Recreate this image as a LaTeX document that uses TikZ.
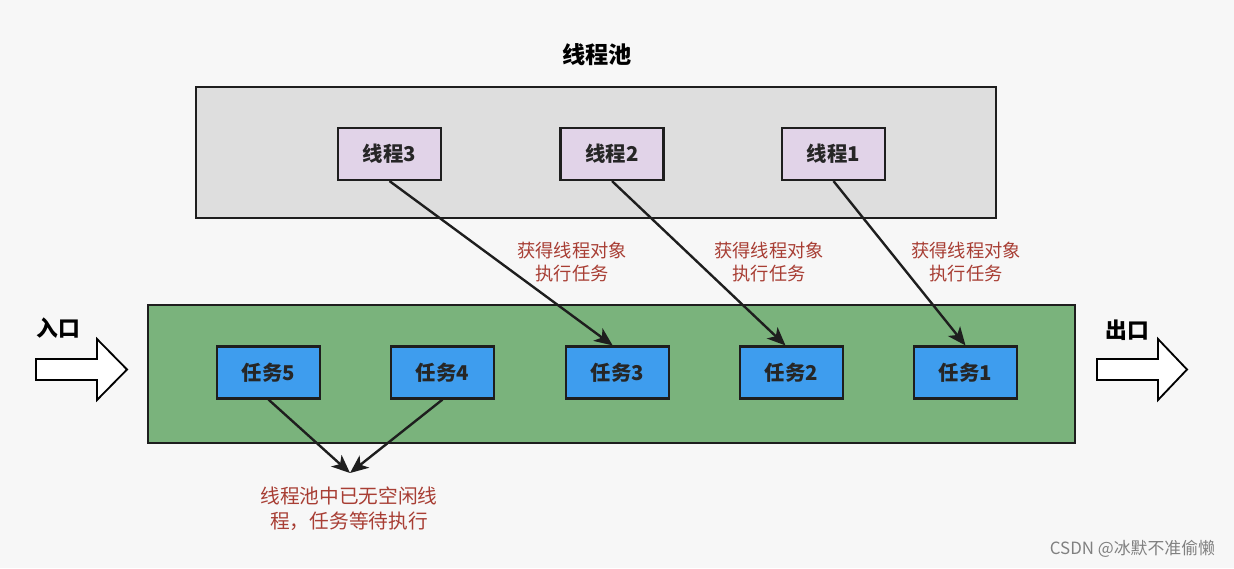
\documentclass[tikz,border=0pt]{standalone}
\usepackage{fontspec}
\setmainfont{Noto Sans CJK SC}
\usetikzlibrary{
	arrows.meta,
	positioning
}
\definecolor{PoolGray}{RGB}{222,222,222}
\definecolor{ThreadPurple}{RGB}{225,211,232}
\definecolor{QueueGreen}{RGB}{122,179,124}
\definecolor{TaskBlue}{RGB}{62,157,238}
\definecolor{NoteRed}{RGB}{168,62,52}
\definecolor{EdgeDark}{RGB}{30,30,30}

\begin{document}
\begin{tikzpicture}[x=0.025cm, y=-0.025cm,
		box/.style={draw=EdgeDark, line width=1.5pt, minimum width=2.575cm, minimum height=1.3cm, inner sep=0pt, text=black!85, font=\fontsize{14.5}{16}\selectfont\bfseries},
		thread/.style={box, fill=ThreadPurple},
		task/.style={box, fill=TaskBlue},
		flow/.style={draw=EdgeDark, line width=1.7pt, -{Stealth[length=13pt,width=11pt,inset=3.5pt]}},
		note/.style={text=NoteRed, align=center, font=\fontsize{13}{17}\selectfont},
		bigarrow/.style={draw=black, fill=white, line width=1.3pt, line join=miter}]
		\useasboundingbox (0,0) rectangle (1234,568);
		\fill[white!97!black] (0,0) rectangle (1234,568);
		
		% pool
		\node[font=\fontsize{16.5}{18}\selectfont\bfseries] (title) at (597,55) {线程池};
		\draw[fill=PoolGray, draw=EdgeDark, line width=1.5pt] (196,87) rectangle (996,218);
		\node[thread] (t3) at (389.5,154) {线程3};
		\node[thread] (t2) at (612,154) {线程2};
		\node[thread] (t1) at (833.5,154) {线程1};
		
		% queue
		\draw[fill=QueueGreen, draw=EdgeDark, line width=1.5pt] (148,305) rectangle (1075,443);
		\node[task] (r5) at (268.5,372.5) {任务5};
		\node[task] (r4) at (442.5,372.5) {任务4};
		\node[task] (r3) at (617.5,372.5) {任务3};
		\node[task] (r2) at (791.5,372.5) {任务2};
		\node[task] (r1) at (965.5,372.5) {任务1};
		
		\draw[flow] (t3.south) -- ([xshift=-0.12cm]r3.north);
		\draw[flow] (t2.south) -- ([xshift=-0.15cm]r2.north);
		\draw[flow] (t1.south) -- (r1.north);
		
		\node[note] (n3) at (572,262) {获得线程对象\\执行任务};
		\node[note] (n2) at (769,262) {获得线程对象\\执行任务};
		\node[note] (n1) at (966,262) {获得线程对象\\执行任务};
		
		% waiting tasks
		\coordinate (wait) at (350,473);
		\draw[flow] (r5.south) -- (wait);
		\draw[flow] (r4.south) -- (wait);
		\node[note, font=\fontsize{14}{18}\selectfont] (waitnote) at (349,509) {线程池中已无空闲线\\程，任务等待执行};
		
		% in / out
		\draw[bigarrow] (36,359) -- (97,359) -- (97,339) -- (127,369.5) -- (97,400) -- (97,380) -- (36,380) -- cycle;
		\node[font=\fontsize{15.5}{17}\selectfont\bfseries] (inlabel) at (58,328) {入口};
		\draw[bigarrow] (1097,359) -- (1158,359) -- (1158,339) -- (1187,369.5) -- (1158,400) -- (1158,380) -- (1097,380) -- cycle;
		\node[font=\fontsize{15.5}{17}\selectfont\bfseries] (outlabel) at (1127,330) {出口};
		
		\node[text=gray, font=\fontsize{12}{14}\selectfont, anchor=east] (mark) at (1220,549) {CSDN @冰默不准偷懒};
	\end{tikzpicture}
\end{document}
